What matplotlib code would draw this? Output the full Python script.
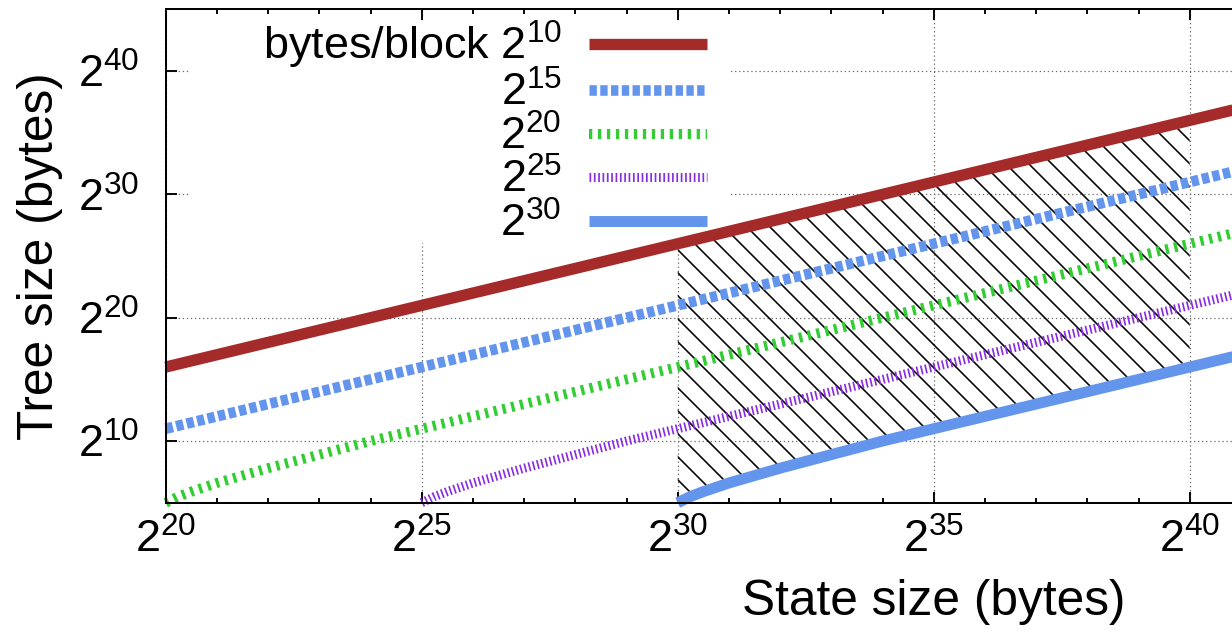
import numpy as np
import matplotlib
matplotlib.use('Agg')
import matplotlib.pyplot as plt
from matplotlib.patches import Rectangle
from matplotlib.collections import LineCollection
from matplotlib.transforms import IdentityTransform

# legend labels, one per block size
block_labels = ['bytes/block $2^{10}$', '$2^{15}$', '$2^{20}$', '$2^{25}$', '$2^{30}$']

# curves (log2 of state size -> log2 of tree size)
state_b10 = [20, 30, 40, 41]
tree_b10 = [16.0, 26.0, 36.0, 37.0]

state_b15 = [20, 30, 40, 41]
tree_b15 = [11.0, 21.0, 31.0, 32.0]

state_b20 = [20, 20.25, 20.5, 21, 21.5, 22, 23, 24, 25, 27, 30, 35, 40, 41]
tree_b20 = [5.0, 5.5, 5.9, 6.6, 7.2, 7.8, 8.9, 10.0, 11.0, 13.0, 16.0, 21.0, 26.0, 27.0]

state_b25 = [25, 25.25, 25.5, 26, 26.5, 27, 28, 29, 30, 32, 35, 40, 41]
tree_b25 = [5.0, 5.5, 5.9, 6.6, 7.2, 7.8, 8.9, 10.0, 11.0, 13.0, 16.0, 21.0, 22.0]

state_b30 = [30, 30.25, 30.5, 31, 31.5, 32, 33, 34, 35, 37, 40, 41]
tree_b30 = [5.0, 5.5, 5.9, 6.6, 7.2, 7.8, 8.9, 10.0, 11.0, 13.0, 16.0, 17.0]

# hatched band between the 2^10 and 2^30 curves
band_lo, band_hi = 30, 40

x_ticks = [20, 25, 30, 35, 40]
x_ticklabels = ['$2^{20}$', '$2^{25}$', '$2^{30}$', '$2^{35}$', '$2^{40}$']
y_ticks = [10, 20, 30, 40]
y_ticklabels = ['$2^{10}$', '$2^{20}$', '$2^{30}$', '$2^{40}$']

DPI = 136
FS = 23.8      # ticks / key
FS_LAB = 26.3  # axis titles

plt.rcParams['font.family'] = 'Liberation Sans'
plt.rcParams['mathtext.fontset'] = 'custom'
plt.rcParams['mathtext.rm'] = 'Liberation Sans'
plt.rcParams['mathtext.it'] = 'Liberation Sans:italic'
plt.rcParams['mathtext.default'] = 'regular'
plt.rcParams['lines.scale_dashes'] = False

fig = plt.figure(figsize=(1232 / DPI, 640 / DPI), dpi=DPI)
ax = fig.add_axes([0.1345, 0.2145, 0.8655, 0.7708])
ax.set_xscale('log', base=2)
ax.set_yscale('log', base=2)
ax.set_axisbelow(True)
ax.set_xlim(2.0 ** 20, 2.0 ** 40.826)
ax.set_ylim(2.0 ** 5, 2.0 ** 45)

series = [
    (state_b10, tree_b10, '#a52a2a', 6.0, None),
    (state_b15, tree_b15, '#6495ed', 5.6, (0, (3.9, 1.8))),
    (state_b20, tree_b20, '#32cd32', 5.3, (0, (1.75, 3.0))),
    (state_b25, tree_b25, '#8a2be2', 4.8, (0, (0.9, 1.4))),
    (state_b30, tree_b30, '#6495ed', 5.8, None),
]

for (xs, ys, col, lw, dash), lab in zip(series, block_labels):
    kw = dict(color=col, lw=lw, label=lab, clip_on=False, solid_capstyle='butt', zorder=2)
    if dash is not None:
        kw['linestyle'] = dash
    ax.plot(2.0 ** np.array(xs), 2.0 ** np.array(ys), **kw)

# hatched region from 2^30 to 2^40 between top and bottom curve
sx_top, sy_top = np.array(state_b10), np.array(tree_b10)
sx_bot, sy_bot = np.array(state_b30), np.array(tree_b30)
m_top = (sx_top >= band_lo) & (sx_top <= band_hi)
m_bot = (sx_bot >= band_lo) & (sx_bot <= band_hi)
px = 2.0 ** np.concatenate([sx_top[m_top], sx_bot[m_bot][::-1]])
py = 2.0 ** np.concatenate([sy_top[m_top], sy_bot[m_bot][::-1]])
band = ax.fill(px, py, facecolor='none', edgecolor='none', zorder=1.5)[0]

# gnuplot-like "\" hatch, ~23 px apart, clipped to the band
verts = ax.transData.transform(np.column_stack([px, py]))
x0, y0 = verts.min(axis=0)
x1, y1 = verts.max(axis=0)
h = y1 - y0
segs = [[(c, y1), (c + h, y0)] for c in np.arange(x0 - h, x1 + 23, 23.0)]
hatch = LineCollection(segs, colors='black', linewidths=0.85,
                       transform=IdentityTransform(), zorder=1.5)
hatch.set_clip_path(band)
ax.add_collection(hatch, autolim=False)

ax.set_xticks([2.0 ** v for v in x_ticks])
ax.set_xticklabels(x_ticklabels)
ax.set_xticks([2.0 ** v for v in range(20, 41)], minor=True)
ax.set_yticks([2.0 ** v for v in y_ticks])
ax.set_yticklabels(y_ticklabels)
ax.yaxis.set_minor_locator(matplotlib.ticker.NullLocator())
ax.xaxis.set_minor_formatter(matplotlib.ticker.NullFormatter())

ax.tick_params(which='both', direction='in', top=True, right=False, width=1.0,
               labelsize=FS)
ax.tick_params(which='major', length=6.0)
ax.tick_params(which='minor', length=2.9)
ax.tick_params(axis='x', pad=8.5)
ax.tick_params(axis='y', pad=14)

for side in ['left', 'top', 'bottom']:
    ax.spines[side].set_linewidth(1.06)
ax.spines['right'].set_visible(False)

ax.grid(True, which='major', color='0.42', lw=0.65, linestyle=(0, (0.7, 1.45)))

# opaque key background like gnuplot
ax.add_patch(Rectangle((0.0228, 0.5265), 0.5064, 0.45, transform=ax.transAxes,
                       facecolor='white', edgecolor='none', zorder=1))

ax.legend(loc='upper right', bbox_to_anchor=(0.5076, 0.980), markerfirst=False,
          frameon=False, fontsize=FS, handlelength=2.63, handletextpad=0.6,
          labelspacing=0.01, borderpad=0, borderaxespad=0)

ax.set_xlabel('State size (bytes)', fontsize=FS_LAB)
ax.xaxis.set_label_coords(0.7205, -0.155)
ax.set_ylabel('Tree size (bytes)', fontsize=FS_LAB)
ax.yaxis.set_label_coords(-0.0963, 0.5)

fig.savefig('out.png', dpi=DPI)
